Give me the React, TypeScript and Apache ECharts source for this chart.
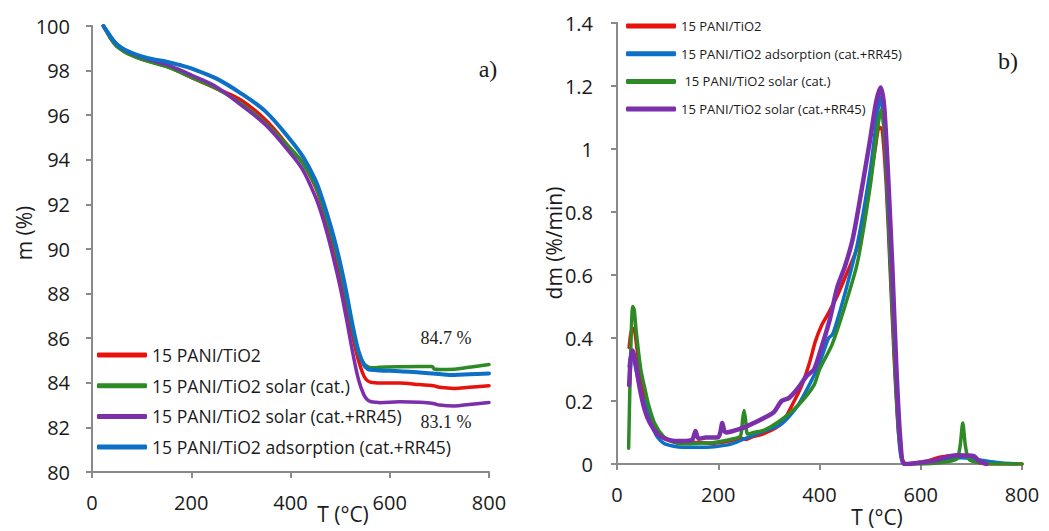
import React, { useEffect, useRef } from "react";
import * as echarts from "echarts";

// ---------- names & colours ----------
const NAME_RED = "15 PANI/TiO2";
const NAME_GREEN = "15 PANI/TiO2 solar (cat.)";
const NAME_PURPLE = "15 PANI/TiO2 solar (cat.+RR45)";
const NAME_BLUE = "15 PANI/TiO2 adsorption (cat.+RR45)";

const COLOR_RED = "#E8120C";
const COLOR_GREEN = "#2E8A25";
const COLOR_PURPLE = "#7B2FAA";
const COLOR_BLUE = "#0B70C6";

// ---------- a) TGA: mass (%) vs T (°C) ----------
const tgaT = [23, 30, 40, 50, 65, 80, 100, 125, 150, 175, 200, 250, 300, 350, 400, 425, 450, 462, 475, 487, 500, 512, 525, 537, 548, 556, 563, 570, 580, 620, 660, 685, 690, 700, 730, 760, 800];
const tgaRed = [100, 99.74, 99.37, 99.1, 98.86, 98.7, 98.52, 98.36, 98.2, 97.96, 97.7, 97.2, 96.68, 95.78, 94.5, 93.84, 92.8, 92.05, 91.1, 90.1, 88.9, 87.6, 86.15, 85.0, 84.3, 84.08, 84.02, 84.0, 83.99, 83.99, 83.92, 83.88, 83.86, 83.8, 83.75, 83.8, 83.87];
const tgaGreen = [100, 99.72, 99.35, 99.08, 98.85, 98.68, 98.5, 98.34, 98.18, 97.95, 97.7, 97.2, 96.53, 95.63, 94.5, 93.84, 92.87, 92.15, 91.25, 90.3, 89.15, 87.9, 86.45, 85.35, 84.85, 84.72, 84.68, 84.68, 84.7, 84.72, 84.73, 84.73, 84.62, 84.6, 84.61, 84.7, 84.82];
const tgaPurple = [100, 99.77, 99.44, 99.18, 98.93, 98.77, 98.61, 98.43, 98.27, 98.05, 97.8, 97.28, 96.46, 95.56, 94.29, 93.54, 92.35, 91.6, 90.6, 89.55, 88.3, 86.95, 85.4, 84.15, 83.45, 83.22, 83.15, 83.13, 83.11, 83.15, 83.13, 83.08, 83.06, 83.0, 82.96, 83.03, 83.12];
const tgaBlue = [100, 99.77, 99.44, 99.18, 98.95, 98.8, 98.64, 98.5, 98.4, 98.26, 98.1, 97.65, 96.98, 96.16, 94.89, 94.14, 93.1, 92.38, 91.48, 90.55, 89.38, 88.12, 86.6, 85.42, 84.8, 84.62, 84.58, 84.57, 84.55, 84.52, 84.46, 84.42, 84.41, 84.39, 84.35, 84.38, 84.42];

// ---------- b) DTG: dm (%/min) vs T (°C) ----------
const dtgRedT = [24, 28, 33, 40, 47, 55, 62, 70, 80, 93, 110, 130, 160, 192, 225, 245, 255, 265, 291, 324, 350, 365, 380, 392, 404, 418, 434, 450, 475, 500, 510, 518, 524, 532, 540, 548, 556, 563, 570, 590, 610, 640, 670, 695, 710, 730, 800];
const dtgRedV = [0.37, 0.42, 0.43, 0.36, 0.28, 0.21, 0.17, 0.13, 0.105, 0.085, 0.072, 0.068, 0.068, 0.066, 0.074, 0.082, 0.078, 0.085, 0.097, 0.127, 0.2, 0.25, 0.32, 0.39, 0.44, 0.48, 0.53, 0.59, 0.69, 0.9, 1.0, 1.07, 1.06, 0.88, 0.6, 0.32, 0.1, 0.02, 0.0, 0.003, 0.008, 0.022, 0.027, 0.02, 0.008, 0.0, 0.0];

const dtgGreenT = [23, 27, 31, 34, 38, 47, 55, 62, 74, 93, 110, 126, 160, 192, 230, 244, 248, 251, 254, 258, 270, 291, 320, 357, 389, 400, 425, 450, 475, 500, 515, 522, 528, 536, 544, 552, 560, 568, 600, 640, 665, 673, 678, 683, 688, 693, 700, 720, 750, 800];
const dtgGreenV = [0.05, 0.35, 0.5, 0.49, 0.42, 0.3, 0.24, 0.19, 0.13, 0.085, 0.07, 0.064, 0.066, 0.068, 0.08, 0.09, 0.14, 0.17, 0.14, 0.095, 0.1, 0.108, 0.135, 0.185, 0.25, 0.3, 0.38, 0.5, 0.64, 0.88, 1.07, 1.125, 1.05, 0.8, 0.5, 0.22, 0.05, 0.0, 0.0, 0.005, 0.012, 0.02, 0.06, 0.13, 0.06, 0.02, 0.01, 0.003, 0, 0];

const dtgBlueT = [24, 28, 32, 40, 47, 53, 57, 60, 65, 72, 80, 93, 110, 130, 160, 192, 225, 258, 291, 324, 357, 389, 400, 418, 425, 432, 450, 475, 500, 512, 520, 526, 534, 542, 550, 558, 566, 590, 620, 650, 680, 700, 720, 750, 790];
const dtgBlueV = [0.31, 0.35, 0.34, 0.28, 0.23, 0.2, 0.2, 0.17, 0.14, 0.11, 0.085, 0.065, 0.057, 0.053, 0.053, 0.055, 0.063, 0.084, 0.105, 0.126, 0.185, 0.28, 0.32, 0.4, 0.41, 0.44, 0.54, 0.7, 0.93, 1.08, 1.165, 1.1, 0.85, 0.56, 0.28, 0.06, 0.0, 0.002, 0.008, 0.015, 0.02, 0.018, 0.012, 0.005, 0];

const dtgPurpleT = [24, 27, 31, 36, 45, 55, 65, 80, 95, 110, 130, 148, 152, 155, 158, 162, 175, 200, 204, 208, 212, 216, 240, 258, 291, 310, 325, 340, 357, 375, 389, 400, 420, 435, 450, 465, 480, 500, 512, 521, 528, 536, 544, 552, 560, 568, 600, 630, 650, 670, 690, 705, 715, 730];
const dtgPurpleV = [0.25, 0.33, 0.36, 0.33, 0.24, 0.17, 0.13, 0.095, 0.08, 0.074, 0.073, 0.076, 0.09, 0.105, 0.09, 0.08, 0.084, 0.085, 0.1, 0.13, 0.105, 0.1, 0.11, 0.121, 0.147, 0.165, 0.2, 0.21, 0.24, 0.28, 0.3, 0.35, 0.457, 0.56, 0.626, 0.71, 0.84, 1.03, 1.15, 1.195, 1.13, 0.9, 0.62, 0.3, 0.07, 0.0, 0.005, 0.012, 0.022, 0.028, 0.027, 0.025, 0.01, 0];

// ---------- ticks / texts ----------
const xTicks = { min: 0, max: 800, interval: 200 };
const massTicks = { min: 80, max: 100, interval: 2 };
const dtgTicks = { min: 0, max: 1.4, interval: 0.2 };
const legendLeftOrder = [NAME_RED, NAME_GREEN, NAME_PURPLE, NAME_BLUE];
const legendRightOrder = [NAME_RED, NAME_BLUE, NAME_GREEN, NAME_PURPLE];
const annotHigh = "84.7 %";
const annotLow = "83.1 %";

const SANS = "'Open Sans', 'Noto Sans', sans-serif";
const SERIF = "'Liberation Serif', 'DejaVu Serif', serif";
const AXIS_GRAY = "#8a8a8a";

const pairs = (xs: number[], ys: number[]) => xs.map((x, i) => [x, ys[i]]);

function axisCommon(fontSize: number, margin: number) {
  return {
    axisLine: { show: true, lineStyle: { color: AXIS_GRAY, width: 2 } },
    axisTick: { show: true, length: 6, inside: false, lineStyle: { color: AXIS_GRAY, width: 2 } },
    splitLine: { show: false },
    axisLabel: { color: "#1a1a1a", fontSize, fontFamily: SANS, margin },
  };
}

function lineSeries(name: string, color: string, data: number[][], idx: number, width: number, smooth: number) {
  return {
    type: "line",
    name,
    xAxisIndex: idx,
    yAxisIndex: idx,
    data,
    showSymbol: false,
    symbol: "none",
    smooth,
    lineStyle: { color, width, cap: "round", join: "round" },
    itemStyle: { color },
    emphasis: { disabled: true },
  };
}

export default function App() {
  const ref = useRef<HTMLDivElement>(null);

  useEffect(() => {
    if (!ref.current) return;
    const chart = echarts.init(ref.current, null, { renderer: "svg" });
    const option: any = {
      animation: false,
      backgroundColor: "#ffffff",
      grid: [
        { left: 92, top: 26, width: 397, height: 446 },
        { left: 617, top: 23, width: 405, height: 441 },
      ],
      xAxis: [
        { type: "value", gridIndex: 0, ...xTicks, ...axisCommon(20, 20) },
        { type: "value", gridIndex: 1, ...xTicks, ...axisCommon(20, 20) },
      ],
      yAxis: [
        { type: "value", gridIndex: 0, ...massTicks, ...axisCommon(20, 22) },
        {
          type: "value",
          gridIndex: 1,
          ...dtgTicks,
          ...axisCommon(20, 24),
          axisLabel: {
            color: "#1a1a1a",
            fontSize: 20,
            fontFamily: SANS,
            margin: 24,
            formatter: (v: number) => String(Math.round(v * 10) / 10),
          },
        },
      ],
      legend: [
        {
          orient: "vertical",
          left: 97,
          top: 345,
          padding: 0,
          data: legendLeftOrder,
          itemWidth: 50,
          itemHeight: 5,
          itemGap: 10.7,
          icon: "roundRect",
          selectedMode: false,
          textStyle: { fontSize: 17.6, fontFamily: SANS, color: "#1a1a1a", lineHeight: 20 },
        },
        {
          orient: "vertical",
          left: 626,
          top: 18,
          padding: 0,
          data: legendRightOrder,
          itemWidth: 50,
          itemHeight: 5,
          itemGap: 11.7,
          icon: "roundRect",
          selectedMode: false,
          formatter: (n: string) => (n === NAME_GREEN ? " " + n : n),
          textStyle: { fontSize: 13, fontFamily: SANS, color: "#1a1a1a", lineHeight: 16 },
        },
      ],
      series: [
        lineSeries(NAME_RED, COLOR_RED, pairs(tgaT, tgaRed), 0, 3.5, 0.35),
        lineSeries(NAME_GREEN, COLOR_GREEN, pairs(tgaT, tgaGreen), 0, 3.5, 0.35),
        lineSeries(NAME_PURPLE, COLOR_PURPLE, pairs(tgaT, tgaPurple), 0, 3.5, 0.35),
        lineSeries(NAME_BLUE, COLOR_BLUE, pairs(tgaT, tgaBlue), 0, 4, 0.35),
        lineSeries(NAME_RED, COLOR_RED, pairs(dtgRedT, dtgRedV), 1, 3.5, 0.25),
        lineSeries(NAME_BLUE, COLOR_BLUE, pairs(dtgBlueT, dtgBlueV), 1, 3.5, 0.25),
        lineSeries(NAME_GREEN, COLOR_GREEN, pairs(dtgGreenT, dtgGreenV), 1, 3.5, 0.25),
        lineSeries(NAME_PURPLE, COLOR_PURPLE, pairs(dtgPurpleT, dtgPurpleV), 1, 4.5, 0.25),
      ],
      graphic: [
        { type: "text", x: 24, y: 233, rotation: Math.PI / 2, style: { text: "m (%)", font: `21px ${SANS}`, fill: "#1a1a1a", align: "center", verticalAlign: "middle" } },
        { type: "text", x: 343, y: 514, style: { text: "T (°C)", font: `21px ${SANS}`, fill: "#1a1a1a", align: "center", verticalAlign: "middle" } },
        { type: "text", x: 554, y: 243, rotation: Math.PI / 2, style: { text: "dm (%/min)", font: `21px ${SANS}`, fill: "#1a1a1a", align: "center", verticalAlign: "middle" } },
        { type: "text", x: 877, y: 517, style: { text: "T (°C)", font: `21px ${SANS}`, fill: "#1a1a1a", align: "center", verticalAlign: "middle" } },
        { type: "text", x: 488, y: 69, style: { text: "a)", font: `24px ${SERIF}`, fill: "#1a1a1a", align: "center", verticalAlign: "middle" } },
        { type: "text", x: 1008, y: 61, style: { text: "b)", font: `24px ${SERIF}`, fill: "#1a1a1a", align: "center", verticalAlign: "middle" } },
        { type: "text", x: 446, y: 338, style: { text: annotHigh, font: `18px ${SERIF}`, fill: "#222", align: "center", verticalAlign: "middle" } },
        { type: "text", x: 446, y: 422, style: { text: annotLow, font: `18px ${SERIF}`, fill: "#222", align: "center", verticalAlign: "middle" } },
      ],
    };
    chart.setOption(option);
    return () => chart.dispose();
  }, []);

  return <div ref={ref} style={{ position: "absolute", left: 0, top: 0, width: 1049, height: 531 }} />;
}
